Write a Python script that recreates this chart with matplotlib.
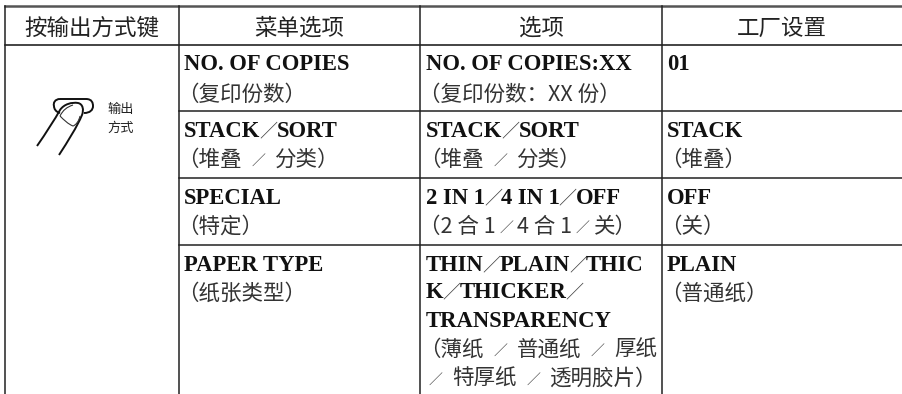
#!/usr/bin/env python3

import matplotlib
matplotlib.use('Agg')
import matplotlib.pyplot as plt
from matplotlib.path import Path
from matplotlib.patches import PathPatch

W, H = 902, 394
CJK = ['Noto Sans CJK SC', 'DejaVu Sans']
LATIN = ['Liberation Serif', 'Noto Sans CJK SC']

headers = ['按输出方式键', '菜单选项', '选项', '工厂设置']
key_label = ['输出', '方式']

menu_items = [
    ['NO. OF COPIES', '（复印份数）'],
    ['STACK／SORT', '（堆叠 ／ 分类）'],
    ['SPECIAL', '（特定）'],
    ['PAPER TYPE', '（纸张类型）'],
]
options = [
    ['NO. OF COPIES:XX', '（复印份数：XX 份）'],
    ['STACK／SORT', '（堆叠 ／ 分类）'],
    ['2 IN 1／4 IN 1／OFF', '（2 合 1／4 合 1／关）'],
    ['THIN／PLAIN／THIC', 'K／THICKER／', 'TRANSPARENCY',
     '（薄纸 ／ 普通纸 ／ 厚纸', '／ 特厚纸 ／ 透明胶片）'],
]
defaults = [
    ['01'],
    ['STACK', '（堆叠）'],
    ['OFF', '（关）'],
    ['PLAIN', '（普通纸）'],
]

col_x = [5, 178.5, 420, 662]
row_y = [44.5, 111, 178, 244.5]
col_text_x = [184, 426, 667]
header_cx = [92, 299, 541, 782]
row_baselines = [
    [70, 101],
    [137, 166],
    [204, 233],
    [271, 300],
]
long_baselines = [271, 298, 327, 356, 385]

fig = plt.figure(figsize=(W / 100, H / 100), dpi=100)
ax = fig.add_axes([0, 0, 1, 1])
ax.set_xlim(0, W)
ax.set_ylim(H, 0)
ax.axis('off')
renderer = fig.canvas.get_renderer()

# table rules
ax.plot([5, W], [6, 6], color='#555555', lw=1.8)
ax.plot([5, W], [44.5, 44.5], color='#111111', lw=1.1)
for y in row_y[1:]:
    ax.plot([178.5, W], [y, y], color='#222222', lw=1.1)
for x in col_x:
    ax.plot([x, x], [6, H], color='#222222', lw=1.1)

for cx, label in zip(header_cx, headers):
    ax.text(cx, 34.5, label, family=CJK, fontsize=16.2, ha='center', va='baseline',
            color='#222222')


def draw_line(x, y, s):
    # the slashes are small and light in the original, so they are set apart
    is_cjk = s.startswith('（') or s.startswith('／')
    if is_cjk:
        x = x - 7
        style = dict(family=CJK, fontsize=15.5, color='#333333')
        slash_size, slash_adv = 10, 21.5
    else:
        style = dict(family=LATIN, fontsize=16.3, weight='bold', color='#111111')
        slash_size, slash_adv = 13, 16
    pieces = s.split('／')
    for i, piece in enumerate(pieces):
        if i > 0:
            # a slash with spaces round it takes a wider slot
            adv = 33 if piece.startswith(' ') else slash_adv
            ax.text(x + adv / 2, y - 1, '／', family=CJK, fontsize=slash_size,
                    ha='center', va='baseline', color='#444444')
            x += adv
        if piece.strip():
            t = ax.text(x, y, piece.strip(), va='baseline', **style)
            x = t.get_window_extent(renderer).x1


for col, cells in enumerate([menu_items, options, defaults]):
    for row, lines in enumerate(cells):
        ys = long_baselines if len(lines) == 5 else row_baselines[row]
        for y, s in zip(ys, lines):
            draw_line(col_text_x[col], y, s)

# key with finger
C = Path.CURVE4
M = Path.MOVETO
L = Path.LINETO
button = Path([(60, 99), (86, 99), (92, 99), (93, 103), (93, 106),
               (93, 110), (90, 113), (84, 113)],
              [M, L, C, C, C, C, C, C])
button2 = Path([(60, 99), (55, 99), (53, 103), (54, 106), (54, 109), (56, 112), (60, 113)],
               [M, C, C, C, C, C, C])
finger = Path([(37, 146), (46, 133), (55, 119), (60, 110), (64, 104), (72, 102), (78, 103),
               (83, 104), (84, 110), (82, 115), (77, 127), (68, 141), (59, 155)],
              [M, C, C, C, C, C, C, C, C, C, C, C, C])
nail = Path([(60, 116), (64, 120), (68, 124), (73, 126), (76, 125), (79, 121), (80, 116)],
            [M, C, C, C, C, C, C])
inner = Path([(60, 116), (63, 110), (67, 107), (73, 105)], [M, C, C, C])
for p in [button, button2, finger]:
    ax.add_patch(PathPatch(p, fc='none', ec='#111111', lw=1.4))
for p in [nail, inner]:
    ax.add_patch(PathPatch(p, fc='none', ec='#333333', lw=0.8))

for y, s in zip([113, 132], key_label):
    ax.text(107, y, s, family=CJK, fontsize=9.5, va='baseline', color='#222222')

plt.savefig('out.png', dpi=100)
plt.close(fig)
